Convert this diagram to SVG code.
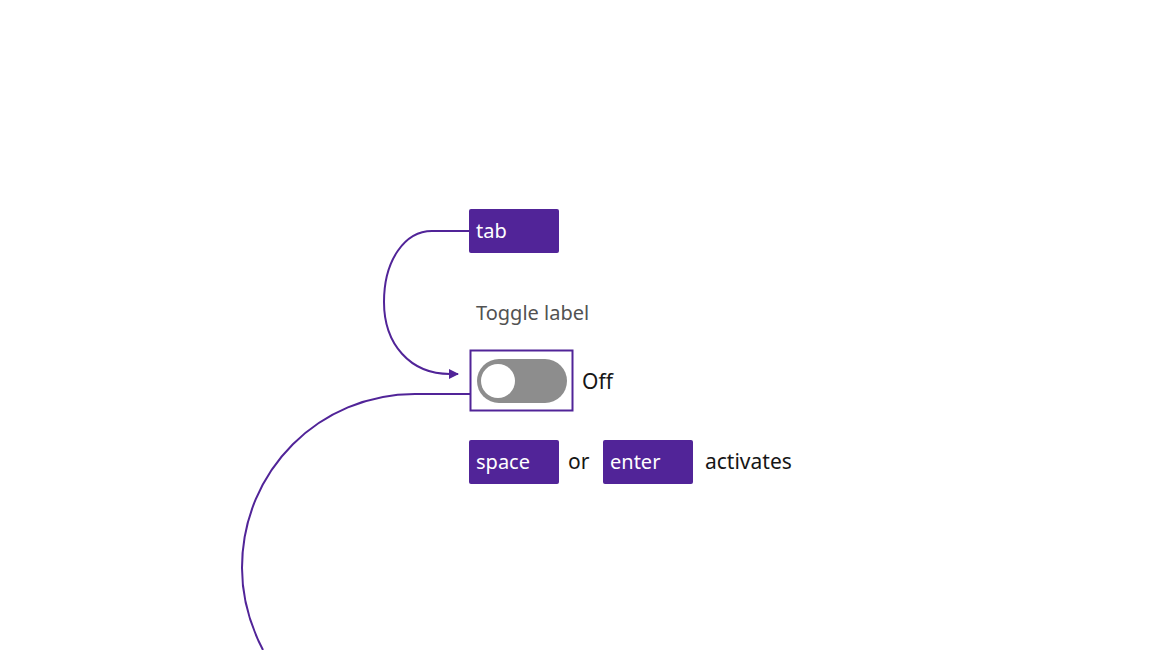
<svg xmlns="http://www.w3.org/2000/svg" width="1152" height="650" viewBox="0 0 1152 650">
<style>
.key{fill:#512498;}
.kt{fill:#fff;font-family:"Noto Sans","Open Sans",sans-serif;font-size:20px;}
.t{font-family:"Noto Sans","Open Sans",sans-serif;font-size:21px;fill:#161616;}
.line{fill:none;stroke:#512498;stroke-width:2;}
</style>
<defs><marker id="ah" markerWidth="10" markerHeight="10" refX="9" refY="5" orient="auto" markerUnits="userSpaceOnUse"><path d="M0 0L10 5L0 10z" fill="#512498"/></marker></defs>
<rect width="1152" height="650" fill="#fff"/>
<g id="connectors">
<path class="line" d="M469 231H432C405 231 384 260 384 302C384 344 410 374 450 374H458" marker-end="url(#ah)" transform="translate(0,0)"/>
<path class="line" d="M470 394H415C320 394 242 470 242 568C242 600 250 625 263 650"/>
</g>
<g id="tab"><rect class="key" x="469" y="209" width="90" height="44" rx="2"/><text class="kt" x="476" y="238">tab</text></g>
<g id="label"><text x="476" y="320" font-family="Noto Sans, Open Sans, sans-serif" font-size="20" fill="#525252">Toggle label</text></g>
<g id="toggle">
<rect x="470.5" y="350.5" width="102" height="60" fill="none" stroke="#512498" stroke-width="2"/>
<rect x="477" y="359" width="90" height="44" rx="22" fill="#8d8d8d"/>
<circle cx="498" cy="381" r="17" fill="#fff"/>
<text class="t" x="582" y="389" font-size="24">Off</text>
</g>
<g id="space"><rect class="key" x="469" y="440" width="90" height="44" rx="2"/><text class="kt" x="476" y="469">space</text></g>
<g id="or"><text class="t" x="568" y="469" font-size="20">or</text></g>
<g id="enter"><rect class="key" x="603" y="440" width="90" height="44" rx="2"/><text class="kt" x="610" y="469">enter</text></g>
<g id="activates"><text class="t" x="705" y="469" font-size="20">activates</text></g>
</svg>
